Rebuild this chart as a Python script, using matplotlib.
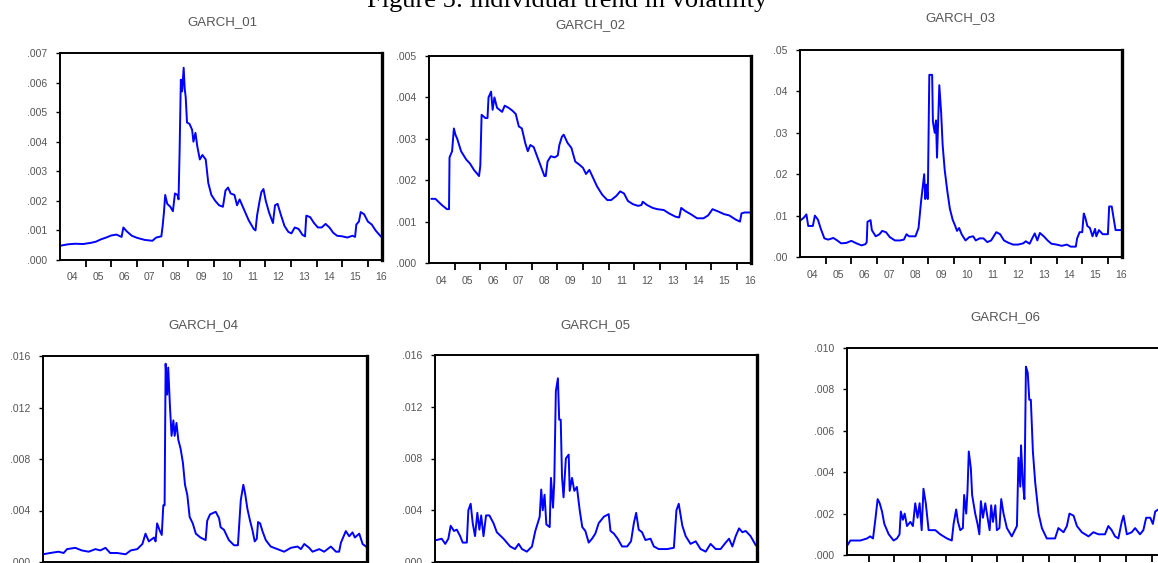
import numpy as np
import matplotlib
matplotlib.use('Agg')
import matplotlib.pyplot as plt
from matplotlib.ticker import FuncFormatter

# values in units of 1e-3
t01 = [2004.0, 2004.3, 2004.6, 2004.9, 2005.2, 2005.4, 2005.6, 2005.8, 2006.0, 2006.2, 2006.4, 2006.47,
       2006.6, 2006.8, 2007.0, 2007.3, 2007.6, 2007.75, 2007.95, 2008.0, 2008.05, 2008.1, 2008.18, 2008.3,
       2008.4, 2008.48, 2008.58, 2008.62, 2008.66, 2008.71, 2008.76, 2008.82, 2008.86, 2008.9, 2008.95,
       2009.05, 2009.15, 2009.2, 2009.28, 2009.35, 2009.45, 2009.55, 2009.68, 2009.78, 2009.9, 2010.05,
       2010.2, 2010.35, 2010.45, 2010.55, 2010.65, 2010.8, 2010.9, 2011.0, 2011.15, 2011.35, 2011.55,
       2011.62, 2011.68, 2011.78, 2011.85, 2011.93, 2012.02, 2012.15, 2012.3, 2012.38, 2012.48, 2012.6,
       2012.75, 2012.9, 2013.02, 2013.15, 2013.3, 2013.45, 2013.55, 2013.6, 2013.75, 2013.9, 2014.05,
       2014.2, 2014.35, 2014.5, 2014.65, 2014.8, 2015.0, 2015.2, 2015.4, 2015.5, 2015.55, 2015.65,
       2015.72, 2015.85, 2016.0, 2016.15, 2016.3, 2016.5]
v01 = [0.48, 0.53, 0.55, 0.54, 0.58, 0.62, 0.70, 0.76, 0.83, 0.86, 0.78, 1.10,
       0.97, 0.82, 0.75, 0.68, 0.65, 0.76, 0.80, 1.15, 1.60, 2.20, 1.90, 1.80,
       1.65, 2.25, 2.20, 2.05, 3.60, 6.10, 5.70, 6.50, 5.80, 5.50, 4.65,
       4.60, 4.40, 4.00, 4.30, 3.85, 3.40, 3.55, 3.40, 2.60, 2.20, 2.00,
       1.85, 1.80, 2.35, 2.45, 2.25, 2.20, 1.85, 2.05, 1.75, 1.35, 1.05,
       1.00, 1.50, 2.00, 2.30, 2.40, 2.00, 1.60, 1.25, 1.85, 1.90, 1.55,
       1.15, 0.95, 0.90, 1.10, 1.05, 0.85, 0.80, 1.50, 1.45, 1.25, 1.10,
       1.10, 1.22, 1.10, 0.92, 0.82, 0.80, 0.76, 0.82, 0.78, 1.20, 1.30,
       1.62, 1.55, 1.30, 1.20, 1.00, 0.80]

t02 = [2004.1, 2004.25, 2004.5, 2004.7, 2004.78, 2004.8, 2004.9, 2004.97, 2005.03, 2005.1, 2005.25,
       2005.45, 2005.6, 2005.75, 2005.95, 2006.0, 2006.05, 2006.2, 2006.28, 2006.32, 2006.42, 2006.48,
       2006.55, 2006.65, 2006.75, 2006.85, 2006.95, 2007.1, 2007.25, 2007.38, 2007.5, 2007.62, 2007.75,
       2007.85, 2007.95, 2008.08, 2008.2, 2008.38, 2008.5, 2008.55, 2008.62, 2008.75, 2008.9, 2009.02,
       2009.08, 2009.18, 2009.25, 2009.4, 2009.55, 2009.7, 2009.85, 2010.0, 2010.12, 2010.25, 2010.4,
       2010.55, 2010.75, 2010.95, 2011.1, 2011.3, 2011.45, 2011.6, 2011.75, 2011.95, 2012.15, 2012.28,
       2012.33, 2012.5, 2012.72, 2012.9, 2013.15, 2013.35, 2013.6, 2013.75, 2013.83, 2014.0, 2014.2,
       2014.45, 2014.7, 2014.88, 2015.05, 2015.25, 2015.5, 2015.7, 2015.95, 2016.12, 2016.18, 2016.3,
       2016.5]
v02 = [1.55, 1.55, 1.40, 1.30, 1.30, 2.55, 2.70, 3.25, 3.10, 3.00, 2.70,
       2.50, 2.40, 2.25, 2.10, 2.35, 3.58, 3.50, 3.50, 4.00, 4.14, 3.70,
       4.00, 3.75, 3.70, 3.65, 3.80, 3.75, 3.68, 3.60, 3.30, 3.25, 2.90,
       2.70, 2.85, 2.80, 2.60, 2.30, 2.10, 2.10, 2.45, 2.58, 2.55, 2.60,
       2.85, 3.05, 3.10, 2.90, 2.78, 2.45, 2.38, 2.30, 2.15, 2.25, 2.05,
       1.85, 1.65, 1.52, 1.52, 1.62, 1.73, 1.68, 1.50, 1.42, 1.38, 1.40,
       1.48, 1.40, 1.33, 1.30, 1.28, 1.20, 1.12, 1.10, 1.33, 1.25, 1.18,
       1.08, 1.08, 1.15, 1.30, 1.25, 1.18, 1.15, 1.05, 1.00, 1.20, 1.22,
       1.22]

t03 = [2004.05, 2004.15, 2004.25, 2004.32, 2004.5, 2004.58, 2004.7, 2004.8, 2004.95, 2005.1, 2005.3,
       2005.45, 2005.6, 2005.8, 2006.0, 2006.2, 2006.4, 2006.55, 2006.6, 2006.63, 2006.75, 2006.8,
       2006.95, 2007.1, 2007.2, 2007.35, 2007.5, 2007.7, 2007.9, 2008.05, 2008.15, 2008.25, 2008.5,
       2008.62, 2008.72, 2008.84, 2008.88, 2008.93, 2008.98, 2009.04, 2009.15, 2009.18, 2009.25, 2009.3,
       2009.34, 2009.43, 2009.5, 2009.56, 2009.64, 2009.74, 2009.84, 2009.95, 2010.05, 2010.12, 2010.2,
       2010.3, 2010.45, 2010.6, 2010.75, 2010.85, 2011.0, 2011.15, 2011.3, 2011.45, 2011.55, 2011.65,
       2011.8, 2011.95, 2012.1, 2012.3, 2012.5, 2012.7, 2012.8, 2012.95, 2013.05, 2013.15, 2013.25,
       2013.35, 2013.5, 2013.65, 2013.8, 2014.0, 2014.2, 2014.4, 2014.55, 2014.75, 2014.8, 2014.9,
       2015.0, 2015.06, 2015.12, 2015.2, 2015.3, 2015.4, 2015.5, 2015.55, 2015.65, 2015.8, 2016.0,
       2016.05, 2016.15, 2016.22, 2016.3, 2016.5]
v03 = [9.0, 9.5, 10.3, 7.5, 7.5, 10.0, 9.0, 7.0, 4.5, 4.2, 4.6,
       4.0, 3.3, 3.4, 3.9, 3.3, 2.8, 3.1, 3.6, 8.5, 8.9, 6.5,
       5.0, 5.5, 6.3, 6.0, 4.8, 4.0, 4.0, 4.2, 5.5, 5.0, 5.0,
       7.0, 13.5, 20.0, 14.0, 17.5, 14.0, 44.0, 44.0, 32.7, 30.0, 33.0,
       24.0, 41.5, 35.0, 27.0, 21.0, 16.0, 11.7, 9.0, 7.5, 6.3, 7.0,
       5.5, 4.0, 4.8, 5.0, 4.0, 4.5, 4.5, 3.6, 4.0, 5.0, 6.0,
       5.5, 4.0, 3.5, 3.0, 3.0, 3.3, 3.8, 3.2, 4.5, 5.7, 4.0,
       5.8, 5.0, 4.0, 3.2, 3.0, 2.7, 3.0, 2.5, 2.5, 4.5, 6.0,
       6.0, 10.5, 9.5, 7.5, 7.0, 5.0, 6.8, 5.0, 6.5, 5.5, 5.5,
       12.2, 12.2, 9.5, 6.5, 6.5]

t04 = [2004.0, 2004.28, 2004.6, 2004.8, 2004.93, 2005.25, 2005.5, 2005.77, 2006.03, 2006.22, 2006.42,
       2006.6, 2006.87, 2007.2, 2007.4, 2007.65, 2007.85, 2007.97, 2008.1, 2008.3, 2008.36, 2008.42,
       2008.53, 2008.6, 2008.66, 2008.71, 2008.75, 2008.81, 2008.85, 2008.92, 2008.98, 2009.05, 2009.1,
       2009.17, 2009.24, 2009.33, 2009.42, 2009.5, 2009.59, 2009.68, 2009.8, 2009.92, 2010.1, 2010.3,
       2010.36, 2010.47, 2010.69, 2010.82, 2010.88, 2011.01, 2011.2, 2011.4, 2011.55, 2011.66, 2011.76,
       2011.83, 2011.92, 2012.02, 2012.11, 2012.2, 2012.28, 2012.33, 2012.41, 2012.5, 2012.63, 2012.82,
       2013.08, 2013.34, 2013.6, 2013.86, 2013.99, 2014.12, 2014.31, 2014.44, 2014.7, 2014.89, 2015.15,
       2015.35, 2015.47, 2015.54, 2015.73, 2015.86, 2015.99, 2016.08, 2016.25, 2016.38, 2016.51]
v04 = [0.6, 0.7, 0.8, 0.7, 1.0, 1.1, 0.9, 0.8, 1.0, 0.9, 1.1,
       0.7, 0.7, 0.6, 0.9, 1.0, 1.4, 2.2, 1.6, 1.9, 1.6, 3.0,
       2.4, 2.1, 4.4, 4.4, 15.4, 13.0, 15.1, 12.0, 9.8, 11.0, 9.8,
       10.8, 9.5, 8.8, 7.7, 6.0, 5.2, 3.5, 3.0, 2.2, 1.9, 1.7,
       3.2, 3.7, 3.9, 3.4, 2.7, 2.5, 1.7, 1.3, 1.3, 4.8, 6.0,
       5.3, 4.1, 3.2, 2.5, 1.6, 1.8, 3.1, 3.0, 2.4, 1.7, 1.2,
       1.0, 0.8, 1.1, 1.2, 1.0, 1.4, 1.1, 0.8, 1.0, 0.8, 1.2,
       0.8, 0.8, 1.5, 2.4, 2.0, 2.3, 1.9, 2.2, 1.4, 1.2]

t05 = [2004.07, 2004.26, 2004.4, 2004.52, 2004.61, 2004.74, 2004.85, 2004.98, 2005.08, 2005.24, 2005.3,
       2005.39, 2005.47, 2005.56, 2005.65, 2005.73, 2005.8, 2005.89, 2005.99, 2006.12, 2006.28, 2006.41,
       2006.67, 2006.93, 2007.12, 2007.26, 2007.39, 2007.58, 2007.78, 2007.91, 2008.08, 2008.14, 2008.2,
       2008.27, 2008.34, 2008.47, 2008.52, 2008.6, 2008.65, 2008.71, 2008.79, 2008.84, 2008.9, 2008.95,
       2009.01, 2009.1, 2009.21, 2009.25, 2009.34, 2009.43, 2009.53, 2009.64, 2009.74, 2009.86, 2009.99,
       2010.12, 2010.25, 2010.38, 2010.58, 2010.77, 2010.84, 2010.97, 2011.12, 2011.29, 2011.49, 2011.64,
       2011.75, 2011.84, 2011.94, 2012.07, 2012.2, 2012.4, 2012.53, 2012.72, 2013.05, 2013.31, 2013.41,
       2013.5, 2013.64, 2013.77, 2013.96, 2014.16, 2014.35, 2014.55, 2014.74, 2014.94, 2015.13, 2015.33,
       2015.46, 2015.59, 2015.72, 2015.85, 2015.98, 2016.11, 2016.3, 2016.5]
v05 = [1.7, 1.8, 1.4, 1.8, 2.8, 2.4, 2.5, 2.0, 1.5, 1.5, 4.0,
       4.5, 3.0, 2.0, 3.8, 2.5, 3.6, 2.0, 3.6, 3.6, 3.0, 2.3,
       1.8, 1.2, 1.0, 1.4, 1.0, 0.8, 1.2, 2.4, 3.5, 5.6, 4.0,
       5.2, 2.9, 2.7, 6.5, 4.2, 6.3, 13.2, 14.2, 11.0, 11.0, 6.6,
       5.0, 8.0, 8.3, 5.5, 6.5, 5.5, 5.8, 4.0, 2.7, 2.4, 1.5,
       1.8, 2.2, 3.0, 3.5, 3.7, 2.4, 2.2, 1.8, 1.2, 1.2, 1.6,
       3.0, 3.8, 2.5, 2.3, 1.7, 1.8, 1.2, 1.0, 1.0, 1.1, 4.0,
       4.5, 2.8, 2.0, 1.4, 1.6, 1.0, 0.8, 1.4, 1.0, 1.0, 1.5,
       1.8, 1.2, 2.0, 2.6, 2.3, 2.4, 2.0, 1.3]

t06 = [2004.19, 2004.29, 2004.68, 2004.94, 2005.06, 2005.17, 2005.26, 2005.35, 2005.43, 2005.52, 2005.61,
       2005.78, 2005.97, 2006.1, 2006.2, 2006.25, 2006.33, 2006.4, 2006.49, 2006.62, 2006.72, 2006.81,
       2006.9, 2006.98, 2007.06, 2007.13, 2007.22, 2007.33, 2007.59, 2007.78, 2008.04, 2008.23, 2008.3,
       2008.4, 2008.47, 2008.56, 2008.66, 2008.71, 2008.79, 2008.84, 2008.89, 2008.97, 2009.02, 2009.14,
       2009.23, 2009.3, 2009.36, 2009.44, 2009.53, 2009.62, 2009.7, 2009.76, 2009.83, 2009.92, 2009.98,
       2010.08, 2010.15, 2010.24, 2010.37, 2010.56, 2010.76, 2010.82, 2010.89, 2010.92, 2010.99, 2011.05,
       2011.11, 2011.18, 2011.24, 2011.3, 2011.38, 2011.47, 2011.6, 2011.73, 2011.92, 2012.24, 2012.37,
       2012.57, 2012.7, 2012.8, 2012.96, 2013.09, 2013.28, 2013.54, 2013.73, 2013.93, 2014.18, 2014.31,
       2014.44, 2014.57, 2014.7, 2014.83, 2014.9, 2015.03, 2015.22, 2015.35, 2015.54, 2015.67, 2015.78,
       2015.94, 2016.04, 2016.13, 2016.25, 2016.5]
v06 = [0.5, 0.7, 0.7, 0.8, 0.9, 0.8, 1.7, 2.7, 2.5, 2.1, 1.5,
       1.0, 0.7, 0.8, 1.0, 2.1, 1.7, 2.0, 1.4, 1.6, 1.4, 2.5,
       1.8, 2.5, 1.2, 3.2, 2.5, 1.2, 1.2, 1.0, 0.8, 0.7, 1.5,
       2.2, 1.6, 1.2, 1.3, 2.9, 2.0, 3.1, 5.0, 4.2, 2.9, 2.0,
       1.5, 1.0, 2.6, 1.8, 2.5, 1.8, 1.2, 2.4, 1.6, 2.4, 1.2,
       1.3, 2.7, 2.0, 1.3, 0.9, 1.4, 4.7, 3.3, 5.3, 3.5, 2.7,
       9.1, 8.8, 7.5, 7.5, 5.0, 3.5, 2.0, 1.3, 0.8, 0.8, 1.3,
       1.1, 1.4, 2.0, 1.9, 1.4, 1.1, 0.9, 1.1, 1.0, 1.0, 1.4,
       1.2, 0.9, 0.8, 1.6, 1.9, 1.0, 1.1, 1.3, 1.0, 1.2, 1.8,
       1.8, 1.5, 2.1, 2.2, 2.2]

titles = ['GARCH_01', 'GARCH_02', 'GARCH_03', 'GARCH_04', 'GARCH_05', 'GARCH_06']
year_labels = ['04', '05', '06', '07', '08', '09', '10', '11', '12', '13', '14', '15', '16']

W, H = 1158, 563
fig = plt.figure(figsize=(W / 100, H / 100), dpi=100)
SANS = 'Liberation Sans'
GREY = '#555555'


def box(l, t, r, b):
    return [l / W, 1 - b / H, (r - l) / W, (b - t) / H]


def panel(px, t, v, ymax, ystep, dec, title, title_xy, x0=2004.0, x1=2016.55, xlabels=True):
    ax = fig.add_axes(box(*px))
    ax.plot(t, np.array(v) * 1e-3, color='#0000ff', lw=1.4)
    ax.set_xlim(x0, x1)
    ax.set_ylim(0, ymax)
    ax.set_yticks(np.arange(0, ymax + ystep / 2, ystep))
    ax.yaxis.set_major_formatter(FuncFormatter(lambda y, _: f'{y:.{dec}f}'.lstrip('0')))
    ax.set_xticks(np.arange(2005, 2017))
    ax.set_xticklabels([])
    if xlabels:
        # year labels sit between the yearly tick marks (the lower row's are off the page)
        ax.set_xticks(np.arange(2004, 2017) + 0.5, minor=True)
        ax.set_xticklabels(year_labels, minor=True)
    ax.tick_params(axis='x', which='major', direction='out', length=5, width=1.3)
    ax.tick_params(axis='x', which='minor', length=0, pad=9, labelsize=7.5, labelcolor=GREY)
    ax.tick_params(axis='y', direction='out', length=3, width=1, pad=6, labelsize=7.5, labelcolor=GREY)
    for lab in ax.get_xticklabels(minor=True) + ax.get_yticklabels():
        lab.set_family(SANS)
    for s in ax.spines.values():
        s.set_linewidth(1.4)
    ax.spines['right'].set_linewidth(2.4)
    fig.text(title_xy[0] / W, 1 - title_xy[1] / H, title, ha='center', va='center',
             fontsize=9.5, color=GREY, family=SANS)
    return ax


panel((60, 53, 382, 260), t01, v01, 0.007, 0.001, 3, titles[0], (222, 22))
panel((429, 56, 751, 263), t02, v02, 0.005, 0.001, 3, titles[1], (590, 25))
panel((800, 50, 1122, 257), t03, v03, 0.05, 0.01, 2, titles[2], (960, 18))
panel((43, 356, 367, 562), t04, v04, 0.016, 0.004, 3, titles[3], (203, 325), xlabels=False)
panel((435, 355, 757, 562), t05, v05, 0.016, 0.004, 3, titles[4], (595, 325), xlabels=False)
panel((847, 348, 1166, 555), t06, v06, 0.010, 0.002, 3, titles[5], (1005, 317), x0=2004.16, xlabels=False)

fig.text(567 / W, 1 - 7 / H, 'Figure 5: individual trend in volatility', ha='center', va='baseline',
         fontsize=19, family='Liberation Serif')

fig.savefig('out.png', dpi=100)
